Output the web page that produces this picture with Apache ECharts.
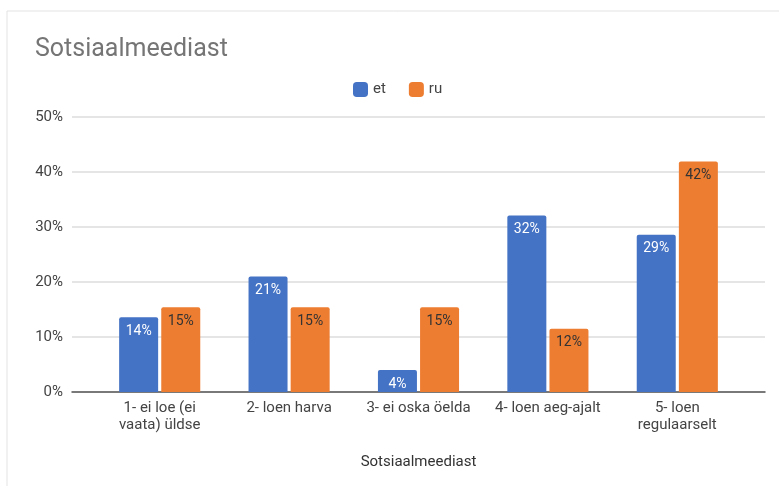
<!DOCTYPE html>
<html>
<head>
<meta charset="utf-8">
<script src="https://cdn.jsdelivr.net/npm/echarts@6/dist/echarts.min.js"></script>
<style>
html,body{margin:0;padding:0;background:#fff;}
#chart{width:779px;height:486px;}
</style>
</head>
<body>
<div id="chart"></div>
<script>
const title = 'Sotsiaalmeediast';
const axisName = 'Sotsiaalmeediast';
const categories = ['1- ei loe (ei\nvaata) üldse', '2- loen harva', '3- ei oska öelda', '4- loen aeg-ajalt', '5- loen\nregulaarselt'];
const seriesNames = ['et', 'ru'];
const etValues = [13.6, 21.0, 4.0, 32.1, 28.6];
const ruValues = [15.4, 15.4, 15.4, 11.5, 41.9];
const yTicks = [0, 10, 20, 30, 40, 50];

const FONT = 'Roboto, "Liberation Sans", Arial, sans-serif';
const chart = echarts.init(document.getElementById('chart'), null, {renderer: 'canvas'});

const fmt = p => Math.round(p.value) + '%';

chart.setOption({
  animation: false,
  backgroundColor: '#fff',
  textStyle: {fontFamily: FONT},
  title: {
    text: title,
    left: 30,
    top: 32,
    textStyle: {fontFamily: FONT, fontSize: 25, fontWeight: 'normal', color: '#757575'}
  },
  legend: {
    data: seriesNames,
    left: 348,
    top: 77,
    itemWidth: 15,
    itemHeight: 15,
    itemGap: 23,
    icon: 'roundRect',
    textStyle: {fontFamily: FONT, fontSize: 15, color: '#444'}
  },
  graphic: [{
    type: 'rect',
    shape: {x: 7, y: 11, width: 800, height: 500},
    style: {fill: 'none', stroke: '#e3e3e3', lineWidth: 1},
    silent: true,
    z: -1
  }],
  grid: [
    {left: 72, right: 14, top: 117, bottom: 94},
    {left: 95, right: 37, top: 117, bottom: 94}
  ],
  xAxis: [
    {
      gridIndex: 0,
      type: 'category',
      data: categories,
      axisLine: {show: true, lineStyle: {color: '#555', width: 1.5}},
      axisTick: {show: false},
      axisLabel: {show: false},
      splitLine: {show: false},
      name: axisName,
      nameLocation: 'middle',
      nameGap: 63,
      nameTextStyle: {fontFamily: FONT, fontSize: 15, color: '#333'}
    },
    {
      gridIndex: 1,
      type: 'category',
      data: categories,
      axisLine: {show: false},
      axisTick: {show: false},
      axisLabel: {fontFamily: FONT, fontSize: 15, color: '#444', margin: 8, lineHeight: 17, interval: 0},
      splitLine: {show: false}
    }
  ],
  yAxis: [
    {
      gridIndex: 0,
      type: 'value',
      min: yTicks[0],
      max: yTicks[yTicks.length - 1],
      interval: 10,
      axisLine: {show: false},
      axisTick: {show: false},
      axisLabel: {formatter: '{value}%', fontFamily: FONT, fontSize: 15, color: '#444', margin: 9},
      splitLine: {lineStyle: {color: '#dcdcdc', width: 1.5}}
    },
    {
      gridIndex: 1,
      type: 'value',
      min: yTicks[0],
      max: yTicks[yTicks.length - 1],
      interval: 10,
      show: false,
      splitLine: {show: false}
    }
  ],
  series: [
    {
      name: seriesNames[0],
      type: 'bar',
      xAxisIndex: 1,
      yAxisIndex: 1,
      data: etValues,
      barWidth: 39,
      barGap: '8%',
      itemStyle: {color: '#4472c4', borderRadius: [2, 2, 0, 0]},
      label: {show: true, position: 'insideTop', distance: 7, formatter: fmt,
        fontFamily: FONT, fontSize: 14, color: '#fff'}
    },
    {
      name: seriesNames[1],
      type: 'bar',
      xAxisIndex: 1,
      yAxisIndex: 1,
      data: ruValues,
      barWidth: 39,
      barGap: '8%',
      itemStyle: {color: '#ed7d31', borderRadius: [2, 2, 0, 0]},
      label: {show: true, position: 'insideTop', distance: 7, formatter: fmt,
        fontFamily: FONT, fontSize: 14, color: '#333'}
    }
  ]
});
</script>
</body>
</html>
